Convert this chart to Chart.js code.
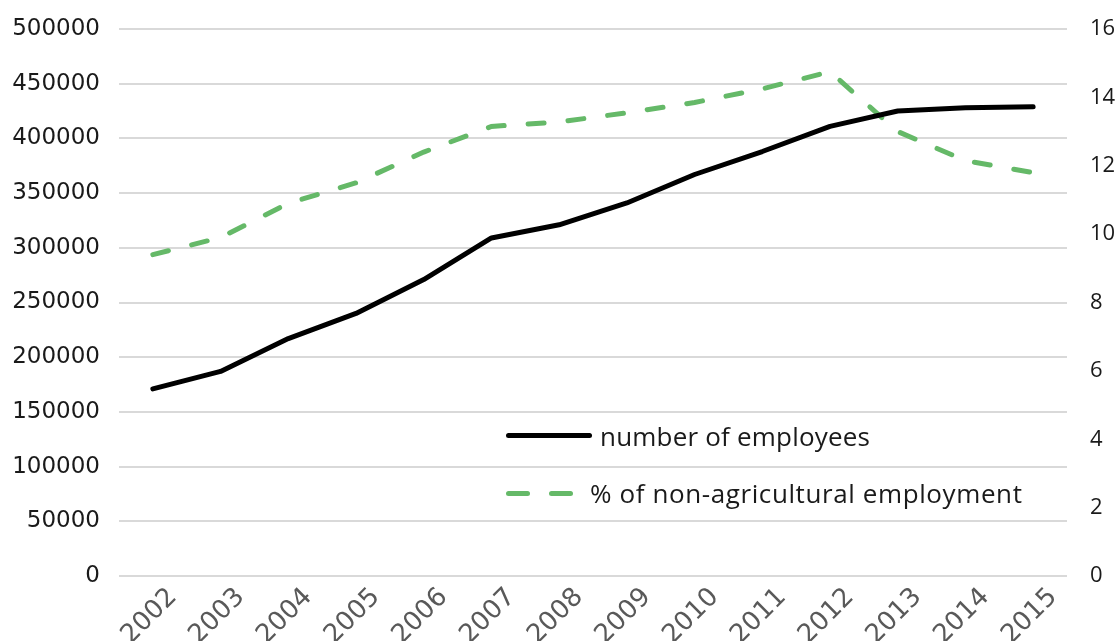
<!DOCTYPE html>
<html>
<head>
<meta charset="utf-8">
<script src="https://cdn.jsdelivr.net/npm/chart.js@4.4.1/dist/chart.umd.min.js"></script>
<style>
  html, body { margin: 0; padding: 0; background: #fff; }
  #wrap { position: relative; width: 1120px; height: 641px; }
  #legend { position: absolute; left: 506px; top: 418px; font-family: "Open Sans", sans-serif; font-size: 26px; color: #1a1a1a; }
  .row { position: absolute; left: 0; white-space: nowrap; height: 36px; line-height: 36px; }
  .solid { position: absolute; left: 0; top: 15px; width: 86px; height: 5px; border-radius: 3px; background: #000; }
  .dash { position: absolute; top: 16px; width: 24px; height: 5px; border-radius: 3px; background: #65b968; }
</style>
</head>
<body>
<div id="wrap">
  <canvas id="myChart" width="1120" height="641"></canvas>
  <div id="legend">
    <div class="row" style="top:0px"><span class="solid"></span><span style="margin-left:94px; letter-spacing:0.2px">number of employees</span></div>
    <div class="row" style="top:57px"><span class="dash" style="left:0"></span><span class="dash" style="left:43px"></span><span style="margin-left:84px; letter-spacing:0.6px">% of non-agricultural employment</span></div>
  </div>
</div>
<script>
const years = ["2002", "2003", "2004", "2005", "2006", "2007", "2008", "2009", "2010", "2011", "2012", "2013", "2014", "2015"] ;
const employees = [171000, 187000, 217000, 240000, 271000, 309000, 321000, 341000, 367000, 388000, 411000, 425000, 428000, 429000] ;
const shareNonAgri = [9.4, 9.9, 10.9, 11.5, 12.4, 13.15, 13.28, 13.55, 13.85, 14.25, 14.75, 13.0, 12.15, 11.8] ;
const leftTicks = [0, 50000, 100000, 150000, 200000, 250000, 300000, 350000, 400000, 450000, 500000] ;
const rightTicks = [0, 2, 4, 6, 8, 10, 12, 14, 16] ;

const ctx = document.getElementById('myChart') ;

new Chart(ctx, {
  type: 'line',
  data: {
    labels: years,
    datasets: [{
      label: "number of employees",
      data: employees,
      yAxisID: 'y',
      borderColor: '#000000',
      borderWidth: 5,
      pointRadius: 0,
      tension: 0,
      borderCapStyle: 'round',
      borderJoinStyle: 'round'
    }, {
      label: "% of non-agricultural employment",
      data: shareNonAgri,
      yAxisID: 'y1',
      borderColor: '#65b968',
      borderWidth: 5,
      borderDash: [16, 24],
      borderCapStyle: 'round',
      pointRadius: 0,
      tension: 0
    }]
  },
  options: {
    responsive: false,
    animation: false,
    layout: {
      padding: { top: 29, bottom: 0, left: 0, right: 0 }
    },
    plugins: {
      legend: { display: false },
      tooltip: { enabled: false }
    },
    scales: {
      x: {
        offset: true,
        grid: { display: false, drawTicks: false },
        border: { display: false },
        ticks: {
          maxRotation: 45,
          minRotation: 45,
          padding: 6,
          labelOffset: 20,
          color: '#595959',
          font: { family: 'DejaVu Sans', size: 26 }
        },
        afterFit: (scale) => { scale.height = 65 ; scale.paddingLeft = 0 ; scale.paddingRight = 0 ; }
      },
      y: {
        position: 'left',
        min: 0,
        max: 500000,
        afterBuildTicks: (scale) => { scale.ticks = leftTicks.map(v => ({ value: v })) ; },
        grid: { color: '#d9d9d9', lineWidth: 2, drawTicks: false },
        border: { display: false },
        ticks: {
          padding: 19,
          color: '#1a1a1a',
          font: { family: 'DejaVu Sans', size: 23 },
          callback: (v) => String(v)
        },
        afterFit: (scale) => { scale.width = 119 ; scale.paddingTop = 0 ; scale.paddingBottom = 0 ; }
      },
      y1: {
        position: 'right',
        min: 0,
        max: 16,
        afterBuildTicks: (scale) => { scale.ticks = rightTicks.map(v => ({ value: v })) ; },
        grid: { display: false, drawTicks: false },
        border: { display: false },
        ticks: {
          padding: 23,
          color: '#1a1a1a',
          font: { family: 'Open Sans', size: 22 }
        },
        afterFit: (scale) => { scale.width = 53 ; scale.paddingTop = 0 ; scale.paddingBottom = 0 ; }
      }
    }
  }
}) ;
</script>
</body>
</html>
